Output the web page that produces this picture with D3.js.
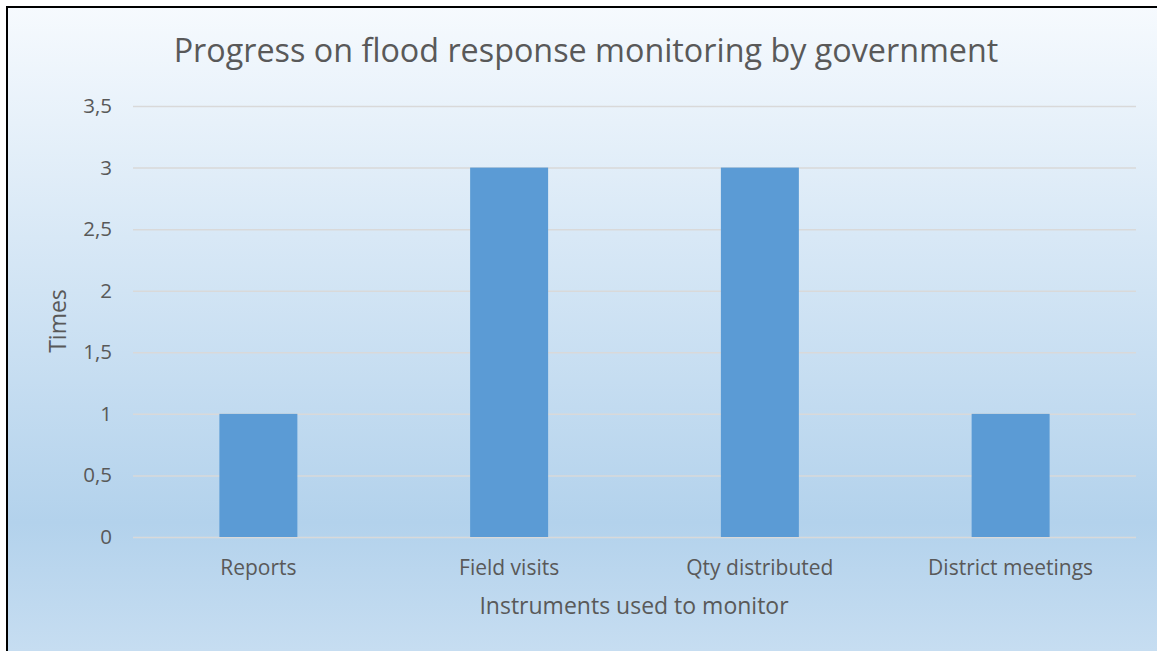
<!DOCTYPE html>
<html>
<head>
<meta charset="utf-8">
<script src="https://cdn.jsdelivr.net/npm/d3@7"></script>
<style>
  html, body { margin: 0; padding: 0; background: #ffffff; }
  svg { display: block; }
</style>
</head>
<body>
<svg id="chart" width="1157" height="651"></svg>
<script>
// Monitoring instruments and how many times each was used
const categories = ["Reports", "Field visits", "Qty distributed", "District meetings"];
const values = [1, 3, 3, 1];
const yTicks = [0, 0.5, 1, 1.5, 2, 2.5, 3, 3.5];
const yTickLabels = ["0", "0,5", "1", "1,5", "2", "2,5", "3", "3,5"];

const W = 1157, H = 651;
const margin = { left: 133, right: 21, top: 106, bottom: 114 };
const font = "'Open Sans', sans-serif";
const textColor = "#595959";

const svg = d3.select("#chart");

// Background gradient of the chart area
const defs = svg.append("defs");
const grad = defs.append("linearGradient")
  .attr("id", "bg").attr("x1", 0).attr("y1", 0).attr("x2", 0).attr("y2", 1);
grad.append("stop").attr("offset", "0%").attr("stop-color", "#f6fafe");
grad.append("stop").attr("offset", "80%").attr("stop-color", "#b3d2ec");
grad.append("stop").attr("offset", "100%").attr("stop-color", "#c6ddf1");

svg.append("rect").attr("x", 7).attr("y", 7).attr("width", W - 7).attr("height", H - 7)
  .attr("fill", "url(#bg)");
// Frame lines on the top and left edges
svg.append("line").attr("x1", 7).attr("x2", W).attr("y1", 7).attr("y2", 7)
  .attr("stroke", "#000").attr("stroke-width", 2);
svg.append("line").attr("x1", 7).attr("x2", 7).attr("y1", 6).attr("y2", H)
  .attr("stroke", "#000").attr("stroke-width", 2);

const x = d3.scaleBand().domain(categories)
  .range([margin.left, W - margin.right]).paddingInner(0.689).paddingOuter(0.3445);
const y = d3.scaleLinear().domain([0, 3.5]).range([H - margin.bottom, margin.top]);

// Horizontal gridlines
const yAxis = d3.axisLeft(y).tickValues(yTicks)
  .tickFormat((d, i) => yTickLabels[i])
  .tickSize(-(W - margin.right - margin.left)).tickPadding(21);
const gy = svg.append("g").attr("transform", `translate(${margin.left},0)`).call(yAxis);
gy.select(".domain").remove();
gy.selectAll(".tick line").attr("stroke", "#d9d9d9").attr("stroke-width", 1.5);
gy.selectAll(".tick text").attr("fill", textColor).style("font-family", font).style("font-size", "20.5px");

// Bars
svg.append("g").selectAll("rect").data(values).join("rect")
  .attr("x", (d, i) => x(categories[i]))
  .attr("y", d => y(d))
  .attr("width", x.bandwidth())
  .attr("height", d => y(0) - y(d))
  .attr("fill", "#5b9bd5");

// Category axis
const xAxis = d3.axisBottom(x).tickSize(0).tickPadding(23);
const gx = svg.append("g").attr("transform", `translate(0,${y(0)})`).call(xAxis);
gx.select(".domain").remove();
gx.selectAll(".tick text").attr("fill", textColor).style("font-family", font).style("font-size", "21px");

// Title and axis titles
svg.append("text").attr("x", 586).attr("y", 62).attr("text-anchor", "middle")
  .attr("fill", textColor).style("font-family", font).style("font-size", "32.3px")
  .text("Progress on flood response monitoring by government");
svg.append("text").attr("x", 634).attr("y", 614).attr("text-anchor", "middle")
  .attr("fill", textColor).style("font-family", font).style("font-size", "23px")
  .text("Instruments used to monitor");
svg.append("text").attr("transform", "translate(66,321) rotate(-90)").attr("text-anchor", "middle")
  .attr("fill", textColor).style("font-family", font).style("font-size", "23px")
  .text("Times");
</script>
</body>
</html>
